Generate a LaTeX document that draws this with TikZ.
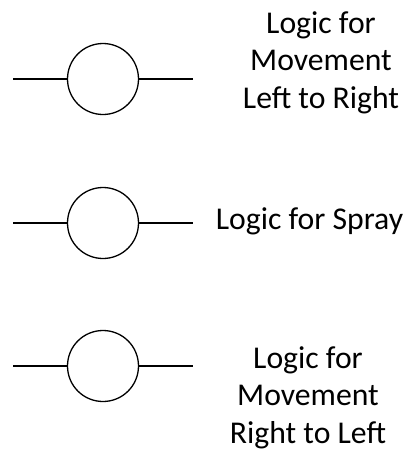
\documentclass[tikz,border=0pt]{standalone}
\usepackage{fontspec}
\setmainfont{Carlito}
\begin{document}
\begin{tikzpicture}[x=1pt,y=-1pt,
  ring/.style={circle,draw,line width=1.3pt,minimum size=71pt,inner sep=0pt},
  wire/.style={line width=1.3pt},
  lbl/.style={align=center,font=\fontsize{31.7pt}{37.5pt}\selectfont,inner sep=0pt,anchor=base}]
\useasboundingbox (0,0) rectangle (405,451);
% top
\node[ring] (c1) at (103,79) {};
\coordinate (l1) at (13,79);
\coordinate (r1) at (193,79);
\draw[wire] (l1) -- (c1.west);
\draw[wire] (c1.east) -- (r1);
% middle
\node[ring] (c2) at (103,223) {};
\coordinate (l2) at (13,223);
\coordinate (r2) at (193,223);
\draw[wire] (l2) -- (c2.west);
\draw[wire] (c2.east) -- (r2);
% bottom
\node[ring] (c3) at (103,366) {};
\coordinate (l3) at (13,366);
\coordinate (r3) at (193,366);
\draw[wire] (l3) -- (c3.west);
\draw[wire] (c3.east) -- (r3);
% labels (anchor = baseline of last line)
\node[lbl] (t1) at (321,108) {Logic for\\Movement\\Left to Right};
\node[lbl] (t2) at (309.5,229) {Logic for Spray};
\node[lbl] (t3) at (308,443) {Logic for\\Movement\\Right to Left};
\end{tikzpicture}
\end{document}
